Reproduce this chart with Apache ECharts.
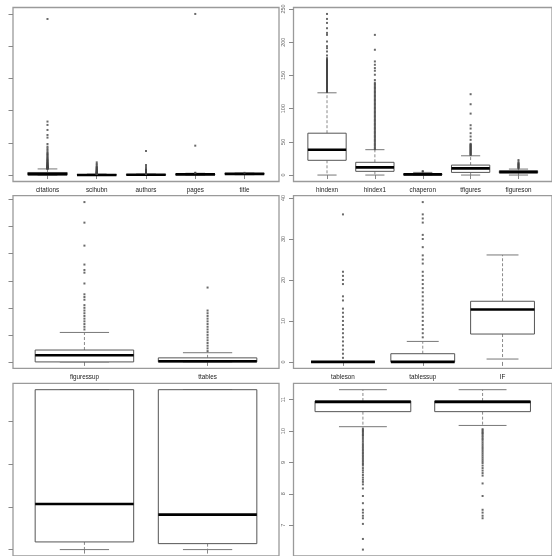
<!DOCTYPE html>
<html><head><meta charset="utf-8">
<script src="https://cdn.jsdelivr.net/npm/echarts@6/dist/echarts.min.js"></script>
<style>html,body{margin:0;padding:0;background:#fff}#c{width:552px;height:556px}</style>
</head><body><div id="c"></div>
<script>
// ---------- data ----------
// panel 1 (top-left)
const catsP1 = ['citations','scihubn','authors','pages','title'];
const statsP1 = [[0,4,14,40,95],[0,0,2,6,15],[1,3,5,8,15],[1,6,10,15,28],[6,14,18,24,30]];
const outCitations = [96,100,104,108,112,116,120,125,130,135,140,146,152,158,165,172,180,188,196,205,215,225,235,245,258,270,285,300,315,327,345,363,390,415,441,482,581,622,700,778,830,2422];
const outScihubn = [16,18,20,23,26,30,34,38,42,47,52,58,64,70,77,85,93,102,112,122,132,150,172,197];
const outAuthors = [16,18,20,22,25,28,31,35,40,45,50,56,62,70,78,88,104,130,156,373];
const outPages = [30,36,456,2500];
const outTitle = [34];
const yTicksP1 = [0,500,1000,1500,2000,2500];

// panel 2 (top-right)
const catsP2 = ['hindexn','hindex1','chaperon','tfigures','figureson'];
const statsP2 = [[0,22.2,38.2,63,123.8],[0,5.6,11.6,19.2,38.2],[0,0,1,2,4],[0,4,10,15,29],[0,3,4.5,6.5,9]];
const outHindexn = [125,126,127,128,129,130,131,132,133,134,135,136,137,138,139,140,141,142,143,144,145,146,147,148,149,150,151,152,153,154,155,156,157,158,159,160,161,162,163,164,165,166,167,168,169,170,171,172,173,174,176,180,186,191,194,201,211,214,221,229,235,242.5];
const outHindex1 = [39,41,43,45,47,49,51,53,55,57,59,61,63,65,67,69,71,73,75,77,79,81,83,85,87,89,91,93,95,97,99,101,103,105,107,109,111,113,115,117,119,121,123,125,127,129,131,133,135,137,139,143,151,157,161,166,171,188.6,211];
const outChaperon = [5,6];
const outTfigures = [30,31,32,33,34,35,36,37,38,39,40,41,42,43,44,45,46,47,53,58,63,70,75,92.5,106.6,121.7];
const outFigureson = [10,11,12,13,14,15,16,17,18,20,22.6];
const yTicksP2 = [0,50,100,150,200,250];

// panel 3 (middle-left)
const catsP3 = ['figuressup','ttables'];
const statsP3 = [[0,0,2.45,4.4,10.9],[0,0,0.25,1.5,3.4]];
const outFiguressup = [12,13,14,15,16,17,18,19,20,21,23,24,25,29,33,34,36,43,51.5,59.1];
const outTtables = [4,5,6,7,8,9,10,11,12,13,14,15,16,17,18,19,27.5];
const yTicksP3 = [0,10,20,30,40,50,60];

// panel 4 (middle-right)
const catsP4 = ['tableson','tablessup','IF'];
const statsP4 = [[0,0,0,0,0],[0,0,0,2,5],[0.7,6.8,12.8,14.8,26.1]];
const outTableson = [1,2,3,4,5,6,7,8,9,10,11,12,13,15,16,19,20,21,22,36];
const outTablessup = [6,7,8,9,10,11,12,13,14,15,16,17,18,19,20,21,22,24,25,26,28,30,31,34,35,36,39];
const outIF = [];
const yTicksP4 = [0,10,20,30,40];

// panel 5 (bottom-left) – category labels are outside the picture
const statsP5 = [[0,0.18,1.07,3.75,3.75],[0,0.14,0.82,3.75,3.75]];
const yTicksP5 = [0,1,2,3];

// panel 6 (bottom-right) – category labels are outside the picture
const statsP6 = [[10.14,10.62,10.93,10.96,11.32],[10.18,10.62,10.93,10.96,11.32]];
const outP6a = [10.08,10.04,10.0,9.96,9.92,9.88,9.84,9.78,9.72,9.66,9.6,9.55,9.5,9.45,9.4,9.35,9.3,9.25,9.2,9.15,9.1,9.05,9.0,8.95,8.9,8.82,8.75,8.68,8.6,8.52,8.45,8.38,8.3,8.17,7.93,7.70,7.49,7.40,7.30,7.22,7.04,6.56,6.22];
const outP6b = [10.06,10.02,9.98,9.94,9.9,9.85,9.8,9.75,9.7,9.64,9.58,9.52,9.46,9.4,9.34,9.28,9.22,9.16,9.1,9.04,8.98,8.9,8.82,8.74,8.66,8.58,8.33,7.93,7.49,7.40,7.30,7.22];
const yTicksP6 = [7,8,9,10,11];

// ---------- layout ----------
const panels = [
  {cats:catsP1, stats:statsP1, outs:[outCitations,outScihubn,outAuthors,outPages,outTitle], yt:yTicksP1, ymin:-100, ymax:2600, left:13, top:7.5, width:266, height:174, yLab:false, xLab:true},
  {cats:catsP2, stats:statsP2, outs:[outHindexn,outHindex1,outChaperon,outTfigures,outFigureson], yt:yTicksP2, ymin:-9.7, ymax:252.2, left:293.5, top:7.5, width:267, height:174, yLab:true, xLab:true},
  {cats:catsP3, stats:statsP3, outs:[outFiguressup,outTtables], yt:yTicksP3, ymin:-2.36, ymax:61.46, left:13, top:195.7, width:266, height:172.6, yLab:false, xLab:true},
  {cats:catsP4, stats:statsP4, outs:[outTableson,outTablessup,outIF], yt:yTicksP4, ymin:-1.56, ymax:40.56, left:293.5, top:195.7, width:267, height:172.6, yLab:true, xLab:true},
  {cats:null, stats:statsP5, outs:[[],[]], yt:yTicksP5, ymin:-0.15, ymax:3.9, left:13, top:383.3, width:266, height:173.2, yLab:false, xLab:false},
  {cats:null, stats:statsP6, outs:[outP6a,outP6b], yt:yTicksP6, ymin:6.016, ymax:11.524, left:293.5, top:383.3, width:267, height:173.2, yLab:true, xLab:false}
];

function boxItem(params, api) {
  const x = api.value(0);
  const p = [1,2,3,4,5].map(i => api.coord([x, api.value(i)]));
  const cx = p[0][0];
  const bw = api.size([0.8, 0])[0];
  const cw = api.size([0.4, 0])[0];
  const yLo = p[0][1], yQ1 = p[1][1], yMed = p[2][1], yQ3 = p[3][1], yHi = p[4][1];
  const wStyle = {stroke:'#8a8a8a', lineWidth:1, lineDash:[3,2], fill:null};
  const cStyle = {stroke:'#777', lineWidth:1, fill:null};
  return {type:'group', children:[
    {type:'line', shape:{x1:cx,y1:yQ3,x2:cx,y2:yHi}, style:wStyle},
    {type:'line', shape:{x1:cx,y1:yQ1,x2:cx,y2:yLo}, style:wStyle},
    {type:'line', shape:{x1:cx-cw/2,y1:yHi,x2:cx+cw/2,y2:yHi}, style:cStyle},
    {type:'line', shape:{x1:cx-cw/2,y1:yLo,x2:cx+cw/2,y2:yLo}, style:cStyle},
    {type:'rect', shape:{x:cx-bw/2, y:yQ3, width:bw, height:yQ1-yQ3}, style:{fill:'#fff', stroke:'#555', lineWidth:1}},
    {type:'line', shape:{x1:cx-bw/2, y1:yMed, x2:cx+bw/2, y2:yMed}, style:{stroke:'#000', lineWidth:2.6, fill:null}}
  ]};
}

const grid = [], xAxis = [], yAxis = [], series = [];
panels.forEach((pn, i) => {
  const n = pn.stats.length;
  const pad = 0.04 * n;
  const ticks = pn.stats.map((s, k) => k + 1);
  grid.push({left:pn.left, top:pn.top, width:pn.width, height:pn.height, show:true,
    borderColor:'#9a9a9a', borderWidth:1.3, backgroundColor:'transparent', containLabel:false});
  xAxis.push({type:'value', gridIndex:i, min:0.5 - pad, max:n + 0.5 + pad, position:'bottom',
    axisLine:{show:false}, splitLine:{show:false},
    axisTick:{show:true, length:4, customValues:ticks, lineStyle:{color:'#888', width:1}},
    axisLabel:{show:pn.xLab, customValues:ticks, margin:6, fontSize:6.3, color:'#222',
      fontFamily:'Liberation Sans', formatter: v => pn.cats ? pn.cats[Math.round(v) - 1] : ''}});
  yAxis.push({type:'value', gridIndex:i, min:pn.ymin, max:pn.ymax, position:'left',
    axisLine:{show:false}, splitLine:{show:false},
    axisTick:{show:true, length:4.5, customValues:pn.yt, lineStyle:{color:'#888', width:1}},
    axisLabel:{show:pn.yLab, customValues:pn.yt, rotate:90, margin:7, fontSize:5.5, color:'#666',
      fontFamily:'Liberation Sans'}});
  series.push({type:'custom', xAxisIndex:i, yAxisIndex:i, renderItem:boxItem,
    encode:{x:0, y:[1,2,3,4,5]}, silent:true,
    data: pn.stats.map((s, k) => [k + 1].concat(s))});
  series.push({type:'scatter', xAxisIndex:i, yAxisIndex:i, symbol:'rect', symbolSize:2,
    itemStyle:{color:'#444'}, silent:true,
    data: pn.outs.flatMap((arr, k) => arr.map(v => [k + 1, v]))});
});

const chart = echarts.init(document.getElementById('c'));
chart.setOption({animation:false, backgroundColor:'#fff', grid, xAxis, yAxis, series});
</script>
</body></html>
